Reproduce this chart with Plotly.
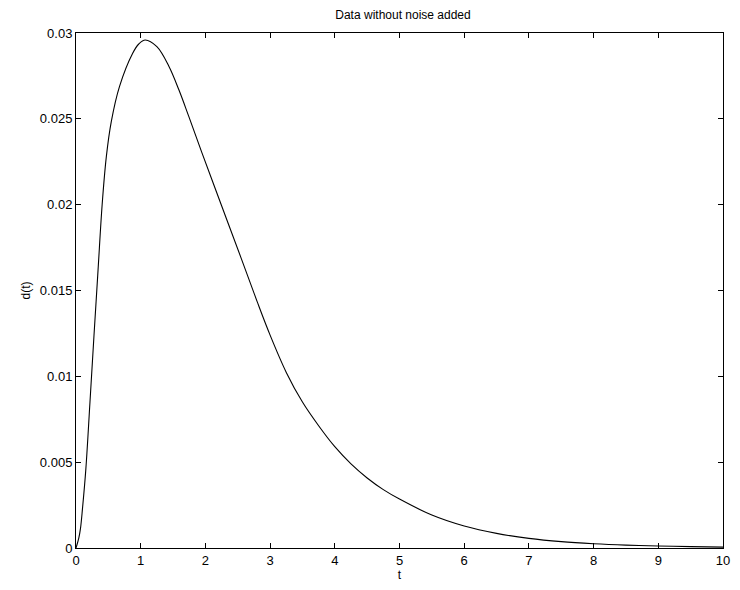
import plotly.graph_objects as go

t_vals = [0, 0.043, 0.070, 0.101, 0.153, 0.216, 0.278, 0.341, 0.404, 0.469, 0.546,
          0.673, 0.876, 0.97, 1.07, 1.25, 1.437, 1.59, 1.743, 1.947, 2.252, 2.558,
          2.8, 3.0, 3.25, 3.5, 3.75, 4.0, 4.25, 4.5, 4.75, 5.0, 5.5, 6.0, 6.5, 7.0,
          7.5, 8.0, 8.5, 9.0, 9.5, 10.0]
d_vals = [0, 0.00058, 0.00116, 0.00232, 0.00464, 0.00851, 0.01238, 0.01620, 0.0200,
          0.0228, 0.02485, 0.02689, 0.02882, 0.02936, 0.02959, 0.0292, 0.02805,
          0.02669, 0.02514, 0.02302, 0.01992, 0.01683, 0.01435, 0.0124, 0.01023,
          0.0085, 0.00712, 0.0059, 0.0049, 0.00408, 0.0034, 0.00285, 0.00192,
          0.00128, 0.00085, 0.00056, 0.00037, 0.00025, 0.00017, 0.00012, 0.00008,
          0.00005]

x_ticks = list(range(0, 11))
y_ticks = [0, 0.005, 0.01, 0.015, 0.02, 0.025, 0.03]
y_tick_text = ["0", "0.005", "0.01", "0.015", "0.02", "0.025", "0.03"]

fig = go.Figure()
fig.add_trace(go.Scatter(x=t_vals, y=d_vals, mode="lines",
                         line=dict(color="black", width=1.1, shape="spline", smoothing=1.0),
                         showlegend=False, hoverinfo="skip"))

axis_common = dict(showline=True, linecolor="black", linewidth=1, mirror="ticks",
                   ticks="inside", ticklen=5, tickcolor="black", showgrid=False,
                   zeroline=False, tickfont=dict(family="Liberation Sans, Arial", size=13, color="black"))

fig.update_layout(
    width=740, height=590,
    margin=dict(l=76, r=10, t=33, b=40),
    paper_bgcolor="white", plot_bgcolor="white",
    title=dict(text="Data without noise added", x=403/740, xanchor="center",
               y=1 - 15/590, yanchor="middle",
               font=dict(family="Liberation Sans, Arial", size=12, color="black")),
    xaxis=dict(range=[0, 10], tickvals=x_ticks, title=dict(text="t", standoff=4,
               font=dict(family="Liberation Sans, Arial", size=12, color="black")), **axis_common),
    yaxis=dict(range=[0, 0.03], tickvals=y_ticks, ticktext=y_tick_text,
               title=dict(text="d(t)", standoff=6,
               font=dict(family="Liberation Sans, Arial", size=12, color="black")), **axis_common),
)

fig.write_html("out.html")
